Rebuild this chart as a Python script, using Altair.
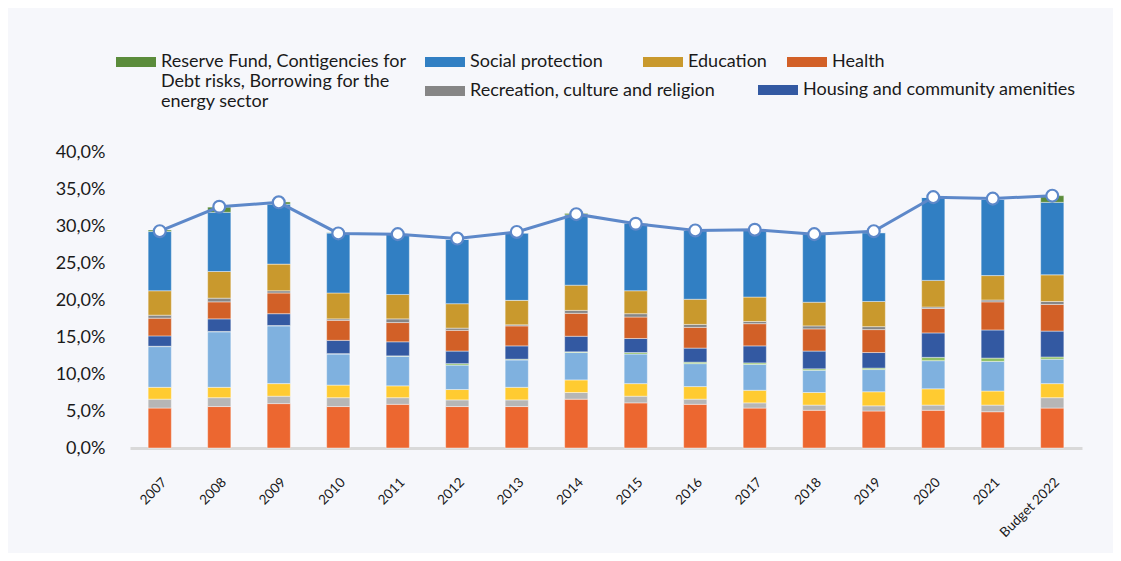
import altair as alt
import pandas as pd

years = ["2007", "2008", "2009", "2010", "2011", "2012", "2013", "2014",
         "2015", "2016", "2017", "2018", "2019", "2020", "2021", "Budget 2022"]

RESERVE = "Reserve Fund, Contigencies for Debt risks, Borrowing for the energy sector"
series_names = [
    "General public services", "Defence", "Public order and safety",
    "Economic affairs", "Environmental protection",
    "Housing and community amenities", "Health",
    "Recreation, culture and religion", "Education", "Social protection",
    RESERVE,
]
series_colors = ["#EC6730", "#B6B6B6", "#FFCB31", "#7FB1DF", "#8FC064",
                 "#3359A2", "#D26027", "#868686", "#C9992D", "#317FC3", "#5B8C3B"]

general = [5.4, 5.6, 6.0, 5.6, 5.9, 5.6, 5.6, 6.6, 6.1, 5.9, 5.4, 5.1, 5.0, 5.1, 4.9, 5.4]
defence = [1.2, 1.2, 1.0, 1.2, 0.9, 0.9, 0.9, 0.9, 0.9, 0.7, 0.7, 0.7, 0.7, 0.7, 0.9, 1.4]
public_order = [1.6, 1.4, 1.7, 1.7, 1.6, 1.4, 1.7, 1.7, 1.7, 1.7, 1.7, 1.7, 1.9, 2.2, 1.9, 1.9]
economic = [5.5, 7.5, 7.8, 4.2, 4.0, 3.3, 3.7, 3.7, 4.0, 3.1, 3.5, 3.0, 3.0, 3.8, 4.0, 3.3]
environment = [0.05, 0.05, 0.05, 0.05, 0.05, 0.2, 0.1, 0.1, 0.2, 0.2, 0.2, 0.2, 0.2, 0.45, 0.45, 0.3]
housing = [1.4, 1.7, 1.6, 1.8, 1.9, 1.7, 1.8, 2.1, 1.9, 1.9, 2.3, 2.4, 2.1, 3.3, 3.8, 3.5]
health = [2.4, 2.3, 2.8, 2.7, 2.6, 2.8, 2.7, 3.1, 2.9, 2.8, 3.0, 3.0, 3.1, 3.3, 3.8, 3.6]
recreation = [0.4, 0.5, 0.3, 0.2, 0.5, 0.3, 0.15, 0.4, 0.45, 0.4, 0.3, 0.4, 0.4, 0.2, 0.25, 0.4]
education = [3.3, 3.6, 3.6, 3.5, 3.3, 3.3, 3.3, 3.4, 3.1, 3.4, 3.3, 3.2, 3.4, 3.6, 3.3, 3.6]
social = [8.0, 8.0, 8.1, 8.1, 8.1, 8.7, 9.1, 9.5, 9.1, 9.3, 9.0, 9.3, 9.3, 11.2, 10.3, 9.8]
reserve = [0.2, 0.7, 0.3, 0.05, 0.0, 0.0, 0.0, 0.2, 0.05, 0.0, 0.0, 0.0, 0.0, 0.0, 0.0, 0.9]

total = [29.3, 32.6, 33.2, 29.0, 28.9, 28.3, 29.2, 31.6, 30.3, 29.4, 29.5, 28.9, 29.3, 33.9, 33.7, 34.1]

y_ticks = [0, 5, 10, 15, 20, 25, 30, 35, 40]

series_values = [general, defence, public_order, economic, environment, housing,
                 health, recreation, education, social, reserve]

rows = []
for k, (name, vals) in enumerate(zip(series_names, series_values)):
    for yr, v in zip(years, vals):
        rows.append({"year": yr, "series": name, "value": v, "k": k})
df = pd.DataFrame(rows)
tot_df = pd.DataFrame({"year": years, "total": total})

FONT = "Lato"
TXT = "#1a1a1a"
LINE = "#5D88C9"
BG = "#F6F7FB"
SYM = "M-1,-0.25L1,-0.25L1,0.25L-1,0.25Z"
LEG_FS = 18

x_axis = alt.Axis(title=None, labelAngle=-45, labelFontSize=13.5, labelColor=TXT,
                  labelFont=FONT, labelPadding=27, ticks=False,
                  domainColor="#D9D9D9", domainWidth=3)
x_scale = alt.Scale(paddingInner=0.61, paddingOuter=0.305)
y_axis = alt.Axis(title=None, values=y_ticks, domain=False, ticks=False, grid=False,
                  labelExpr="replace(format(datum.value, '.1f'), '.', ',') + '%'",
                  labelPadding=25, labelFontSize=18, labelColor=TXT, labelFont=FONT)
y_scale = alt.Scale(domain=[0, 40], nice=False)

LABEL_EXPR = ("datum.label == '" + RESERVE + "' ? ['Reserve Fund, Contigencies for', "
              "'Debt risks, Borrowing for the', 'energy sector'] : datum.label")


def leg(values, lx, ly):
    return alt.Legend(values=values, orient="none", legendX=lx, legendY=ly,
                      direction="vertical", title=None, symbolType=SYM,
                      symbolSize=1600, symbolOpacity=1, symbolStrokeWidth=0,
                      labelFont=FONT, labelFontSize=LEG_FS, labelColor=TXT,
                      labelOffset=5, rowPadding=0, padding=0, labelLimit=500,
                      labelExpr=LABEL_EXPR)


def color_enc(values, lx, ly):
    return alt.Color("series:N",
                     scale=alt.Scale(domain=series_names, range=series_colors),
                     legend=leg(values, lx, ly))


def bar_layer(values, lx, ly, opacity):
    return alt.Chart(df).mark_bar(opacity=opacity, stroke="white",
                                  strokeWidth=0.6, strokeOpacity=0.7).encode(
        x=alt.X("year:N", sort=years, scale=x_scale, axis=x_axis),
        y=alt.Y("value:Q", stack="zero", scale=y_scale, axis=y_axis),
        color=color_enc(values, lx, ly),
        order=alt.Order("k:Q", sort="ascending"),
    )


bars = bar_layer([RESERVE], -14, -110, 1)
g1 = bar_layer(["Social protection", "Recreation, culture and religion"], 295, -110, 0)
g2 = bar_layer(["Education"], 513, -110, 0)
g3 = bar_layer(["Health"], 657, -110, 0)
g4 = bar_layer(["Housing and community amenities"], 628, -82, 0)

line = alt.Chart(tot_df).mark_line(color=LINE, strokeWidth=3).encode(
    x=alt.X("year:N", sort=years, scale=x_scale, axis=x_axis),
    y=alt.Y("total:Q", scale=y_scale, axis=y_axis),
)
pts = alt.Chart(tot_df).mark_point(filled=True, fill="white", stroke=LINE,
                                   strokeWidth=2.2, size=140, opacity=1).encode(
    x=alt.X("year:N", sort=years, scale=x_scale, axis=x_axis),
    y=alt.Y("total:Q", scale=y_scale, axis=y_axis),
)

chart = alt.layer(bars, g1, g2, g3, g4, line, pts).resolve_scale(
    color="independent"
).properties(
    width=952, height=296,
    autosize=alt.AutoSizeParams(type="none"),
    padding={"left": 122, "top": 144, "right": 31, "bottom": 105},
    background=BG,
).configure_view(stroke=None)

chart.save("out.html", embed_options={"renderer": "svg", "actions": False})
